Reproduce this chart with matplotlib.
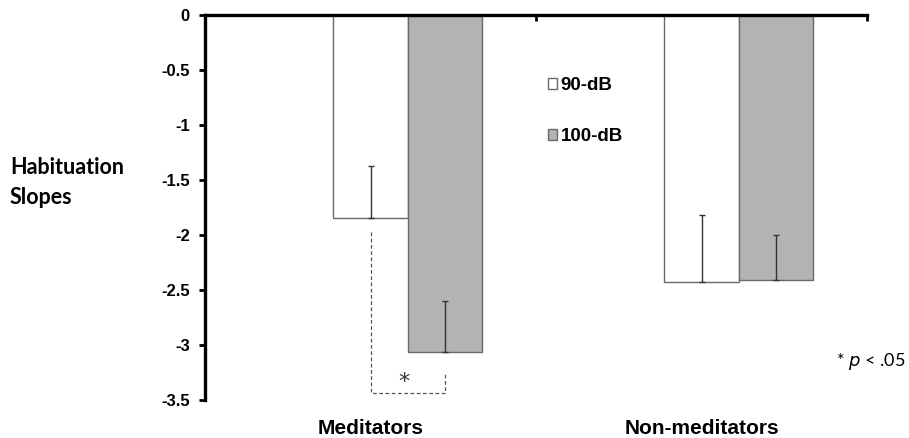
import matplotlib
matplotlib.use("Agg")
import matplotlib.pyplot as plt
from matplotlib.patches import Patch

# Habituation slopes by group and tone intensity
groups = ["Meditators", "Non-meditators"]
series_names = ["90-dB", "100-dB"]
slopes_90 = [-1.85, -2.43]
slopes_100 = [-3.06, -2.41]
sem_90 = [0.48, 0.61]
sem_100 = [0.46, 0.41]
y_ticks = [0, -0.5, -1, -1.5, -2, -2.5, -3, -3.5]
y_tick_labels = ["0", "-0.5", "-1", "-1.5", "-2", "-2.5", "-3", "-3.5"]

W, H = 909, 438
fig = plt.figure(figsize=(W / 100, H / 100), dpi=100)
ax = fig.add_axes([205 / W, 1 - 400 / H, (867 - 205) / W, (400 - 15) / H])

bold = dict(family="Liberation Sans", weight="bold")
bar_w = 0.2236
x = list(range(len(groups)))
x_grey = [i + bar_w for i in x]

ax.bar(x, slopes_90, width=bar_w, color="white", edgecolor="#6a6a6a", linewidth=1.0, zorder=2)
ax.bar(x_grey, slopes_100, width=bar_w, color="#b3b3b3", edgecolor="#6a6a6a", linewidth=1.0, zorder=2)

# one-sided error bars toward zero
ax.errorbar(x, slopes_90, yerr=[[0] * len(sem_90), sem_90], fmt="none",
            ecolor="#333333", elinewidth=1.0, capsize=2.5, capthick=1.0, zorder=3)
ax.errorbar(x_grey, slopes_100, yerr=[[0] * len(sem_100), sem_100], fmt="none",
            ecolor="#333333", elinewidth=1.0, capsize=2.5, capthick=1.0, zorder=3)

ax.set_xlim(-0.5, 1.5)
ax.set_ylim(-3.5, 0)

# spines: axis line along zero at the top, value axis on the left
for side in ("bottom", "right"):
    ax.spines[side].set_visible(False)
for side in ("left", "top"):
    ax.spines[side].set_linewidth(2.4)
    ax.spines[side].set_color("black")

ax.set_yticks(y_ticks)
ax.set_yticklabels(y_tick_labels, fontsize=12, **bold)
ax.tick_params(axis="y", direction="out", length=4, width=2, pad=7)

# group boundaries as ticks on the top line, group names as bottom labels
ax.set_xticks([0.5, 1.5])
ax.set_xticks(x, minor=True)
ax.set_xticklabels(groups, minor=True, fontsize=15, **bold)
ax.tick_params(axis="x", which="major", top=True, bottom=False, direction="in",
               length=4, width=2, labeltop=False, labelbottom=False)
ax.tick_params(axis="x", which="minor", top=False, bottom=False, length=0,
               labelbottom=True, pad=14)

# significance bracket between the Meditators bars
ax.plot([x[0], x[0], x_grey[0], x_grey[0]], [-1.97, -3.44, -3.44, -3.25],
        linestyle=(0, (3, 2)), color="#555555", linewidth=0.9, zorder=1)
ax.text((x[0] + x_grey[0]) / 2 - 0.01, -3.34, "*", ha="center", va="center",
        fontsize=16, color="#333333", family="DejaVu Sans")

handles = [Patch(facecolor="white", edgecolor="#6a6a6a", linewidth=1.0),
           Patch(facecolor="#b3b3b3", edgecolor="#6a6a6a", linewidth=1.0)]
ax.legend(handles, series_names, loc="upper left", bbox_to_anchor=(0.492, 0.882),
          frameon=False, prop=dict(family="Liberation Sans", weight="bold", size=13.5),
          handlelength=0.5, handleheight=0.5, handletextpad=0.2, labelspacing=1.8)

fig.text(10 / W, 1 - 168 / H, "Habituation", ha="left", va="center",
         fontsize=15.5, family="Lato", weight="bold")
fig.text(10 / W, 1 - 198 / H, "Slopes", ha="left", va="center",
         fontsize=15.5, family="Lato", weight="bold")
fig.text(905 / W, 1 - 362 / H, r"* $\it{p}$ < .05", ha="right", va="center",
         fontsize=13, family="Lato")

fig.savefig("out.png", dpi=100, facecolor="white")
